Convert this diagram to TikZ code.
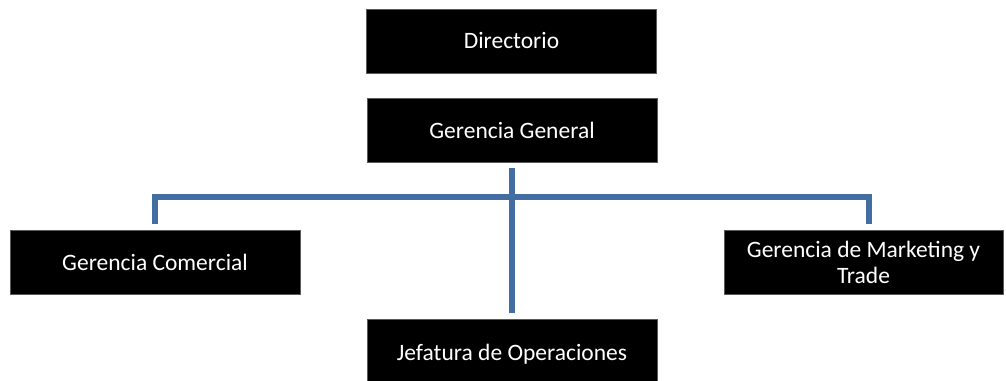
\documentclass[tikz,border=0pt]{standalone}
\usepackage{fontspec}
\setmainfont{Carlito}
\usetikzlibrary{positioning}
\definecolor{linkblue}{RGB}{68,110,162}

\begin{document}
\begin{tikzpicture}[x=1pt,y=-1pt,
  org box/.style={rectangle,fill=black,draw=black!65,line width=0.8pt,text=white,
    minimum width=290pt,minimum height=64pt,inner sep=0pt,align=center,
    font=\fontsize{23.5}{26.5}\selectfont},
  org line/.style={draw=linkblue,line width=5.5pt}]

  \useasboundingbox (0,0) rectangle (1006,380);
  \clip (0,0) rectangle (1006,380);

  \node[org box] (dir) at (511.5,41) {Directorio};
  \node[org box] (gg) at (512,130.5) {Gerencia General};
  \node[org box] (gc) at (155,262) {Gerencia Comercial};
  \node[org box, minimum width=279pt] (mk) at (863.5,262.5) {Gerencia de Marketing y\\Trade};
  \node[org box, minimum height=71pt] (jo) at (512,354.5) {Jefatura de Operaciones};

  \coordinate (bar) at (512,197);

  % tronco central
  \path[org line, shorten <=5pt, shorten >=6pt] (gg.south) edge (jo.north);
  % ramas laterales
  \draw[org line] ([yshift=6pt]gc.north) |- (bar) -| ([xshift=5.5pt,yshift=6pt]mk.north);
\end{tikzpicture}
\end{document}
